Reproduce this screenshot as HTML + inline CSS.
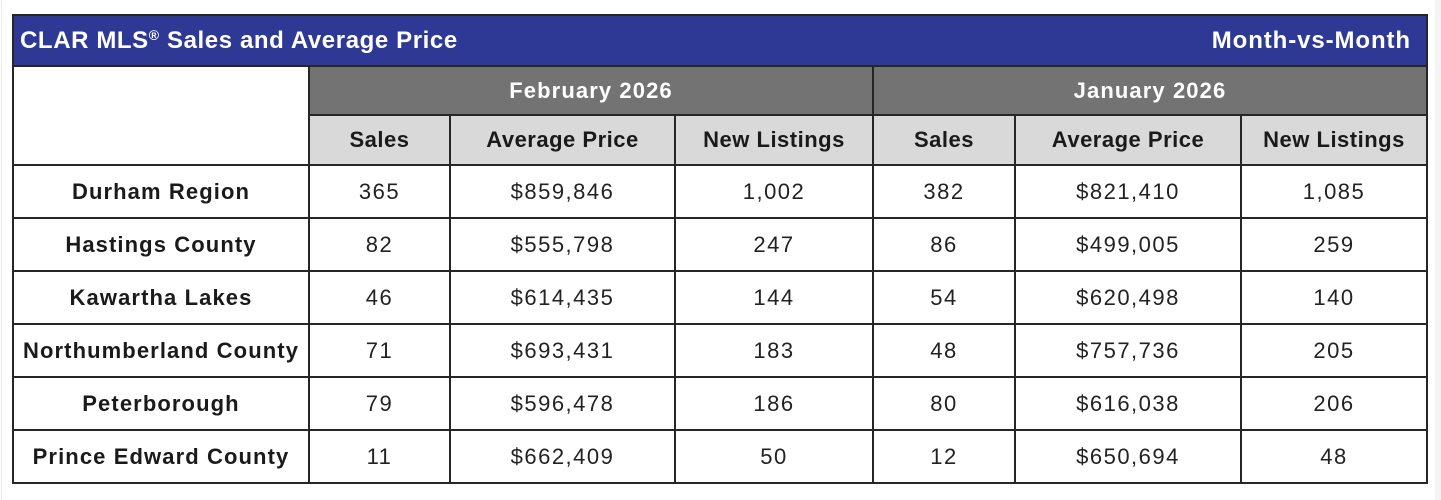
<!DOCTYPE html>
<html>
<head>
<meta charset="utf-8">
<style>
  html, body { margin:0; padding:0; }
  body { width:1441px; height:500px; background:#ffffff; position:relative; overflow:hidden;
         font-family:"Liberation Sans", Arial, sans-serif; color:#1a1a1a; }
  .abs { position:absolute; }
  .fill { position:absolute; }
  .ln { position:absolute; background:#262626; }
  .c { position:absolute; display:flex; align-items:center; justify-content:center; white-space:nowrap; }
  .lbl { font-weight:bold; font-size:22px; letter-spacing:1.1px; }
  .num { font-size:22px; letter-spacing:1.5px; color:#222; }
  .sub { font-weight:bold; font-size:22px; letter-spacing:0.5px; color:#1a1a1a; }
  .mon { font-weight:bold; font-size:22px; letter-spacing:1.1px; color:#ffffff; }
</style>
</head>
<body>
<!-- faint page edges -->
<div class="fill" style="left:1px;top:0;width:1px;height:500px;background:#ececec;"></div>
<div class="fill" style="left:1435px;top:0;width:6px;height:500px;background:#f4f4f4;"></div>

<!-- fills -->
<div class="fill" style="left:13px;top:15px;width:1414px;height:51px;background:#2e3895;"></div>
<div class="fill" style="left:309px;top:66px;width:1118px;height:49px;background:#737373;"></div>
<div class="fill" style="left:309px;top:115px;width:1118px;height:50px;background:#d9d9d9;"></div>

<!-- outer border -->
<div class="ln" style="left:12px;top:14px;width:1416px;height:2px;"></div>
<div class="ln" style="left:12px;top:482px;width:1416px;height:2px;"></div>
<div class="ln" style="left:12px;top:14px;width:2px;height:470px;"></div>
<div class="ln" style="left:1426px;top:14px;width:2px;height:470px;"></div>

<!-- horizontal lines -->
<div class="ln" style="left:12px;top:65px;width:1416px;height:2px;"></div>
<div class="ln" style="left:308px;top:114px;width:1120px;height:2px;"></div>
<div class="ln" style="left:12px;top:164px;width:1416px;height:2px;"></div>
<div class="ln" style="left:12px;top:217px;width:1416px;height:2px;"></div>
<div class="ln" style="left:12px;top:270px;width:1416px;height:2px;"></div>
<div class="ln" style="left:12px;top:323px;width:1416px;height:2px;"></div>
<div class="ln" style="left:12px;top:376px;width:1416px;height:2px;"></div>
<div class="ln" style="left:12px;top:429px;width:1416px;height:2px;"></div>

<!-- vertical lines -->
<div class="ln" style="left:308px;top:66px;width:2px;height:417px;"></div>
<div class="ln" style="left:872px;top:66px;width:2px;height:417px;"></div>
<div class="ln" style="left:449px;top:115px;width:2px;height:368px;"></div>
<div class="ln" style="left:674px;top:115px;width:2px;height:368px;"></div>
<div class="ln" style="left:1014px;top:115px;width:2px;height:368px;"></div>
<div class="ln" style="left:1240px;top:115px;width:2px;height:368px;"></div>

<!-- title -->
<div class="abs" style="left:20px;top:15px;height:51px;display:flex;align-items:center;color:#fff;font-weight:bold;font-size:24px;letter-spacing:0.6px;white-space:nowrap;">CLAR MLS<span style="font-size:14px;position:relative;top:-6px;">®</span>&nbsp;Sales and Average Price</div>
<div class="abs" style="right:30px;top:15px;height:51px;display:flex;align-items:center;color:#fff;font-weight:bold;font-size:24px;letter-spacing:0.9px;white-space:nowrap;">Month-vs-Month</div>

<!-- month headers -->
<div class="c mon" style="left:309px;top:66px;width:564px;height:49px;">February 2026</div>
<div class="c mon" style="left:873px;top:66px;width:554px;height:49px;">January 2026</div>

<!-- sub headers -->
<div class="c sub" style="left:309px;top:115px;width:141px;height:50px;">Sales</div>
<div class="c sub" style="left:450px;top:115px;width:225px;height:50px;">Average Price</div>
<div class="c sub" style="left:675px;top:115px;width:198px;height:50px;">New Listings</div>
<div class="c sub" style="left:873px;top:115px;width:142px;height:50px;">Sales</div>
<div class="c sub" style="left:1015px;top:115px;width:226px;height:50px;">Average Price</div>
<div class="c sub" style="left:1241px;top:115px;width:186px;height:50px;">New Listings</div>

<!-- row 1 -->
<div class="c lbl" style="left:13px;top:165px;width:296px;height:53px;">Durham Region</div>
<div class="c num" style="left:309px;top:165px;width:141px;height:53px;">365</div>
<div class="c num" style="left:450px;top:165px;width:225px;height:53px;">$859,846</div>
<div class="c num" style="left:675px;top:165px;width:198px;height:53px;">1,002</div>
<div class="c num" style="left:873px;top:165px;width:142px;height:53px;">382</div>
<div class="c num" style="left:1015px;top:165px;width:226px;height:53px;">$821,410</div>
<div class="c num" style="left:1241px;top:165px;width:186px;height:53px;">1,085</div>

<!-- row 2 -->
<div class="c lbl" style="left:13px;top:218px;width:296px;height:53px;">Hastings County</div>
<div class="c num" style="left:309px;top:218px;width:141px;height:53px;">82</div>
<div class="c num" style="left:450px;top:218px;width:225px;height:53px;">$555,798</div>
<div class="c num" style="left:675px;top:218px;width:198px;height:53px;">247</div>
<div class="c num" style="left:873px;top:218px;width:142px;height:53px;">86</div>
<div class="c num" style="left:1015px;top:218px;width:226px;height:53px;">$499,005</div>
<div class="c num" style="left:1241px;top:218px;width:186px;height:53px;">259</div>

<!-- row 3 -->
<div class="c lbl" style="left:13px;top:271px;width:296px;height:53px;">Kawartha Lakes</div>
<div class="c num" style="left:309px;top:271px;width:141px;height:53px;">46</div>
<div class="c num" style="left:450px;top:271px;width:225px;height:53px;">$614,435</div>
<div class="c num" style="left:675px;top:271px;width:198px;height:53px;">144</div>
<div class="c num" style="left:873px;top:271px;width:142px;height:53px;">54</div>
<div class="c num" style="left:1015px;top:271px;width:226px;height:53px;">$620,498</div>
<div class="c num" style="left:1241px;top:271px;width:186px;height:53px;">140</div>

<!-- row 4 -->
<div class="c lbl" style="left:13px;top:324px;width:296px;height:53px;">Northumberland County</div>
<div class="c num" style="left:309px;top:324px;width:141px;height:53px;">71</div>
<div class="c num" style="left:450px;top:324px;width:225px;height:53px;">$693,431</div>
<div class="c num" style="left:675px;top:324px;width:198px;height:53px;">183</div>
<div class="c num" style="left:873px;top:324px;width:142px;height:53px;">48</div>
<div class="c num" style="left:1015px;top:324px;width:226px;height:53px;">$757,736</div>
<div class="c num" style="left:1241px;top:324px;width:186px;height:53px;">205</div>

<!-- row 5 -->
<div class="c lbl" style="left:13px;top:377px;width:296px;height:53px;">Peterborough</div>
<div class="c num" style="left:309px;top:377px;width:141px;height:53px;">79</div>
<div class="c num" style="left:450px;top:377px;width:225px;height:53px;">$596,478</div>
<div class="c num" style="left:675px;top:377px;width:198px;height:53px;">186</div>
<div class="c num" style="left:873px;top:377px;width:142px;height:53px;">80</div>
<div class="c num" style="left:1015px;top:377px;width:226px;height:53px;">$616,038</div>
<div class="c num" style="left:1241px;top:377px;width:186px;height:53px;">206</div>

<!-- row 6 -->
<div class="c lbl" style="left:13px;top:430px;width:296px;height:53px;">Prince Edward County</div>
<div class="c num" style="left:309px;top:430px;width:141px;height:53px;">11</div>
<div class="c num" style="left:450px;top:430px;width:225px;height:53px;">$662,409</div>
<div class="c num" style="left:675px;top:430px;width:198px;height:53px;">50</div>
<div class="c num" style="left:873px;top:430px;width:142px;height:53px;">12</div>
<div class="c num" style="left:1015px;top:430px;width:226px;height:53px;">$650,694</div>
<div class="c num" style="left:1241px;top:430px;width:186px;height:53px;">48</div>
</body>
</html>
